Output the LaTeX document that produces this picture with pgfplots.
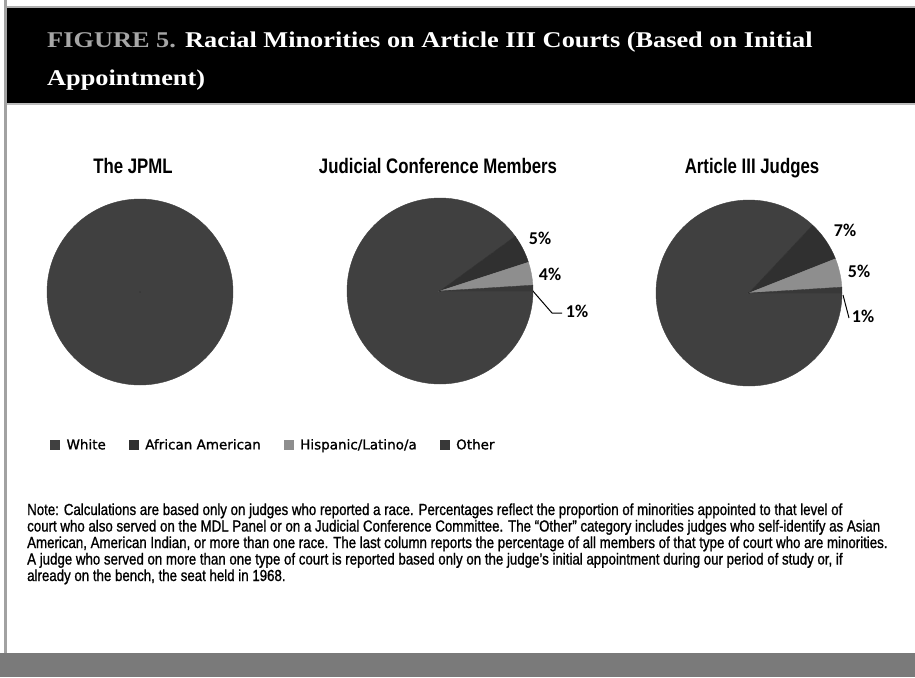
\documentclass[border=0pt]{standalone}
\usepackage{pgfplots}
\pgfplotsset{compat=1.18}
\usepackage{pgfplotstable}
\usepackage{fontspec}
\setmainfont{Liberation Serif}
\newfontfamily\titlefont[FakeStretch=1.17]{Liberation Serif}
\newfontfamily\condfont[FakeStretch=0.80]{Liberation Sans}
\newfontfamily\notefont[FakeStretch=0.83, FakeBold=1]{Liberation Sans}
\newfontfamily\labfont{Carlito}
\newfontfamily\legfont[FakeBold=1.2]{DejaVu Sans}

\definecolor{pieColor0}{HTML}{404040}% White
\definecolor{pieColor1}{HTML}{303030}% African American
\definecolor{pieColor2}{HTML}{8E8E8E}% Hispanic/Latino/a
\definecolor{pieColor3}{HTML}{383838}% Other
\definecolor{frameGray}{HTML}{7A7A7A}

% x y pct cum ci (ci = category index)
\pgfplotstableread{
x   y   pct cum ci
140 292 100 0   0
}\pieA
\pgfplotstableread{
x   y   pct cum ci
440 291 90  0   0
440 291 5   90  1
440 291 4   95  2
440 291 1   99  3
}\pieB
\pgfplotstableread{
x   y   pct cum ci
749 293 87  0   0
749 293 7   87  1
749 293 5   94  2
749 293 1   99  3
}\pieC

\pgfplotsset{
  pieslice/.style={
    only marks, scatter, forget plot,
    mark=*, mark size=0.001pt,
    point meta=\thisrow{pct},
    visualization depends on={\thisrow{pct} \as \slicepct},
    visualization depends on={\thisrow{cum} \as \slicecum},
    visualization depends on={\thisrow{ci} \as \sliceci},
    scatter/@pre marker code/.code={%
      \pgfmathsetmacro\sa{-3.6*\slicecum}%
      \pgfmathsetmacro\da{-3.6*\slicepct}%
      \pgfmathtruncatemacro\ci{\sliceci}%
      \fill[pieColor\ci] (0pt,0pt) -- (\sa:93pt) arc[start angle=\sa, delta angle=\da, radius=93pt] -- cycle;%
    },
    scatter/@post marker code/.code={},
  }
}

\begin{document}
\begin{tikzpicture}
\begin{axis}[
  width=915pt, height=677pt, scale only axis,
  xmin=0, xmax=915, ymin=0, ymax=677, y dir=reverse,
  enlargelimits=false, hide axis, clip=false,
  legend columns=4,
  legend style={at={(axis cs:50,445)}, anchor=west, draw=none, fill=none,
    font=\legfont\fontsize{13.5}{16}\selectfont, inner sep=0pt,
    /tikz/every odd column/.append style={column sep=5pt},
    /tikz/every even column/.append style={column sep=21pt}},
  legend cell align=left,
]
% page background and frame
\fill[white] (axis cs:0,0) rectangle (axis cs:915,677);
\fill[frameGray!70] (axis cs:4,0) rectangle (axis cs:7,653);
\fill[frameGray!60] (axis cs:7,6) rectangle (axis cs:915,8);
\fill[black] (axis cs:7,8) rectangle (axis cs:915,103);
\fill[frameGray!50] (axis cs:7,103) rectangle (axis cs:915,104.5);
\fill[frameGray] (axis cs:0,653) rectangle (axis cs:915,677);

% title
\node[anchor=base west, inner sep=0pt, text=gray!70, font=\titlefont\bfseries\fontsize{22.5}{27}\selectfont]
  at (axis cs:47,48) {FIGURE 5.};
\node[anchor=base west, inner sep=0pt, text=white, font=\titlefont\bfseries\fontsize{22.5}{27}\selectfont]
  at (axis cs:185,48) {Racial Minorities on Article III Courts (Based on Initial};
\node[anchor=base west, inner sep=0pt, text=white, font=\titlefont\bfseries\fontsize{22.5}{27}\selectfont]
  at (axis cs:47,85) {Appointment)};

% subtitles
\node[anchor=base, inner sep=0pt, font=\condfont\bfseries\fontsize{21}{25}\selectfont] at (axis cs:133,173) {The JPML};
\node[anchor=base, inner sep=0pt, font=\condfont\bfseries\fontsize{21}{25}\selectfont] at (axis cs:438,173) {Judicial Conference Members};
\node[anchor=base, inner sep=0pt, font=\condfont\bfseries\fontsize{21}{25}\selectfont] at (axis cs:752,173) {Article III Judges};

% pies
\addplot[pieslice] table[x=x, y=y] {\pieA};
\addplot[pieslice] table[x=x, y=y] {\pieB};
\addplot[pieslice] table[x=x, y=y] {\pieC};

% data labels
\begin{scope}[every node/.style={inner sep=0pt, font=\labfont\bfseries\fontsize{18}{21}\selectfont}]
\node at (axis cs:140,358) {100\%};
\node at (axis cs:382,316) {90\%};
\node at (axis cs:540,238) {5\%};
\node at (axis cs:550,274) {4\%};
\node at (axis cs:577,311) {1\%};
\node at (axis cs:691,326) {87\%};
\node at (axis cs:845,230) {7\%};
\node at (axis cs:859,271) {5\%};
\node at (axis cs:863,316) {1\%};
\end{scope}
\draw[black, line width=1pt] (axis cs:532,290) -- (axis cs:552,313) -- (axis cs:562,313);
\draw[black, line width=1pt] (axis cs:843,295) -- (axis cs:849,318);

% legend
\addlegendimage{legend image code/.code={\fill[pieColor0] (0pt,-4.5pt) rectangle (9pt,4.5pt);}}
\addlegendentry{White}
\addlegendimage{legend image code/.code={\fill[pieColor1] (0pt,-4.5pt) rectangle (9pt,4.5pt);}}
\addlegendentry{African American}
\addlegendimage{legend image code/.code={\fill[pieColor2] (0pt,-4.5pt) rectangle (9pt,4.5pt);}}
\addlegendentry{Hispanic/Latino/a}
\addlegendimage{legend image code/.code={\fill[pieColor3] (0pt,-4.5pt) rectangle (9pt,4.5pt);}}
\addlegendentry{Other}

% note
\begin{scope}[every node/.style={anchor=base west, inner sep=0pt, font=\notefont\fontsize{16}{17}\selectfont}]
\node at (axis cs:27,515) {Note: Calculations are based only on judges who reported a race. Percentages reflect the proportion of minorities appointed to that level of};
\node at (axis cs:27,531.5) {court who also served on the MDL Panel or on a Judicial Conference Committee. The “Other” category includes judges who self-identify as Asian};
\node at (axis cs:27,548) {American, American Indian, or more than one race. The last column reports the percentage of all members of that type of court who are minorities.};
\node at (axis cs:27,564.5) {A judge who served on more than one type of court is reported based only on the judge’s initial appointment during our period of study or, if};
\node at (axis cs:27,581) {already on the bench, the seat held in 1968.};
\end{scope}
\end{axis}
\end{tikzpicture}
\end{document}
